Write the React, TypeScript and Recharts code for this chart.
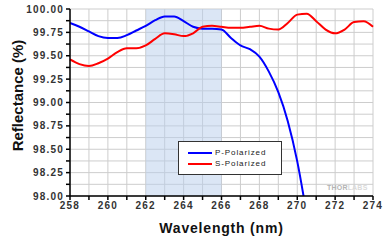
import React from 'react';
import {
  LineChart,
  Line,
  XAxis,
  YAxis,
  CartesianGrid,
  ReferenceArea,
  Legend,
} from 'recharts';

const wavelengths = [
  258, 258.5, 259, 259.5, 260, 260.5, 261, 261.5, 262, 262.5, 263, 263.5, 264, 264.5, 265, 265.5,
  266, 266.5, 267, 267.5, 268, 268.5, 269, 269.5, 270, 270.5, 271, 271.5, 272, 272.5, 273, 273.5, 274,
];
const pPolarized = [
  99.85, 99.81, 99.76, 99.71, 99.69, 99.69, 99.72, 99.77, 99.82, 99.88, 99.92, 99.92, 99.87, 99.81, 99.79, 99.79,
  99.78, 99.69, 99.61, 99.57, 99.49, 99.33, 99.11, 98.8, 98.37, 97.8,
];
const sPolarized = [
  99.46, 99.41, 99.39, 99.42, 99.47, 99.54, 99.58, 99.58, 99.61, 99.68, 99.74, 99.73, 99.71, 99.74, 99.81, 99.82,
  99.81, 99.8, 99.8, 99.81, 99.82, 99.79, 99.78, 99.85, 99.94, 99.95, 99.87, 99.78, 99.74, 99.78, 99.86, 99.87, 99.81,
];
const xTicks = [258, 259, 260, 261, 262, 263, 264, 265, 266, 267, 268, 269, 270, 271, 272, 273, 274];
const yTicks = [98, 98.125, 98.25, 98.375, 98.5, 98.625, 98.75, 98.875, 99, 99.125, 99.25, 99.375, 99.5, 99.625, 99.75, 99.875, 100];
const bandStart = 262;
const bandEnd = 266;

const data = wavelengths.map((w, i) => ({
  w,
  p: i < pPolarized.length ? pPolarized[i] : null,
  s: sPolarized[i],
}));

const font = '"Liberation Sans", Arial, sans-serif';
const tickStyle = { fontSize: 10, fontWeight: 700, fill: '#333', fontFamily: font, letterSpacing: 1.2 };

const LegendBox = () => (
  <div
    style={{
      border: '1.5px solid #333',
      background: '#fff',
      width: 104,
      height: 34,
      boxSizing: 'border-box',
      fontFamily: font,
      fontSize: 8,
      letterSpacing: 0.9,
      color: '#222',
      padding: '5px 0 0 9px',
      lineHeight: '11px',
      textAlign: 'left',
    }}
  >
    {[
      { name: 'P-Polarized', color: '#0000ff' },
      { name: 'S-Polarized', color: '#ff0000' },
    ].map((e) => (
      <div key={e.name} style={{ display: 'flex', alignItems: 'center' }}>
        <span style={{ display: 'inline-block', width: 24, height: 2, background: e.color, marginRight: 3 }} />
        <span>{e.name}</span>
      </div>
    ))}
  </div>
);

export default function App() {
  return (
    <div style={{ position: 'absolute', left: 0, top: 0, width: 383, height: 242, background: '#fff' }}>
      <LineChart width={383} height={242} data={data} margin={{ top: 9, right: 10, left: 0, bottom: 0 }}>
        <ReferenceArea x1={bandStart} x2={bandEnd} fill="#b8cdec" fillOpacity={0.5} stroke="none" />
        <CartesianGrid stroke="#cdcdcd" strokeWidth={1} />
        <XAxis
          dataKey="w"
          type="number"
          domain={[258, 274]}
          ticks={xTicks}
          interval={0}
          tickFormatter={(v: number) => (v % 2 === 0 ? String(v) : '')}
          tick={tickStyle}
          tickSize={4}
          tickLine={{ stroke: '#000', strokeWidth: 1.5 }}
          axisLine={{ stroke: '#000', strokeWidth: 1.5 }}
          height={46}
          label={{
            value: 'Wavelength (nm)',
            position: 'insideBottom',
            offset: 9,
            style: { fontSize: 14, fontWeight: 700, fill: '#111', fontFamily: font, letterSpacing: 0.8 },
          }}
        />
        <XAxis xAxisId="top" orientation="top" dataKey="w" type="number" domain={[258, 274]} tick={false} tickLine={false} axisLine={{ stroke: '#000', strokeWidth: 1.5 }} height={0} />
        <YAxis
          type="number"
          domain={[98, 100]}
          allowDataOverflow
          ticks={yTicks}
          interval={0}
          tickFormatter={(v: number) => (Math.abs(v * 4 - Math.round(v * 4)) < 1e-6 ? v.toFixed(2) : '')}
          tick={tickStyle}
          tickSize={4}
          tickLine={{ stroke: '#000', strokeWidth: 1.5 }}
          axisLine={{ stroke: '#000', strokeWidth: 1.5 }}
          width={70}
          label={{
            content: (props: any) => {
              const vb = props.viewBox;
              const cx = vb.x + 17;
              const cy = vb.y + vb.height / 2 - 7;
              return (
                <text
                  x={cx}
                  y={cy}
                  transform={`rotate(-90, ${cx}, ${cy})`}
                  textAnchor="middle"
                  dominantBaseline="central"
                  style={{ fontSize: 15, fontWeight: 700, fill: '#111', fontFamily: font }}
                >
                  Reflectance (%)
                </text>
              );
            },
          }}
        />
        <YAxis yAxisId="right" orientation="right" domain={[98, 100]} tick={false} tickLine={false} axisLine={{ stroke: '#000', strokeWidth: 1.5 }} width={0} />
        <Line type="monotone" dataKey="p" stroke="#0000ff" strokeWidth={2} dot={false} isAnimationActive={false} connectNulls={false} />
        <Line type="monotone" dataKey="s" stroke="#ff0000" strokeWidth={2} dot={false} isAnimationActive={false} />
        <Legend
          layout="horizontal"
          verticalAlign="middle"
          align="center"
          content={() => <LegendBox />}
          wrapperStyle={{ position: 'absolute', left: 178, top: 141, width: 104, height: 34, bottom: 'auto' }}
        />
      </LineChart>
      <div
        style={{
          position: 'absolute',
          left: 327,
          top: 184,
          fontFamily: font,
          fontSize: 7,
          fontWeight: 700,
          letterSpacing: 0.2,
        }}
      >
        <span style={{ color: '#b4b4b4' }}>THOR</span>
        <span style={{ color: '#dadada' }}>LABS</span>
      </div>
    </div>
  );
}
